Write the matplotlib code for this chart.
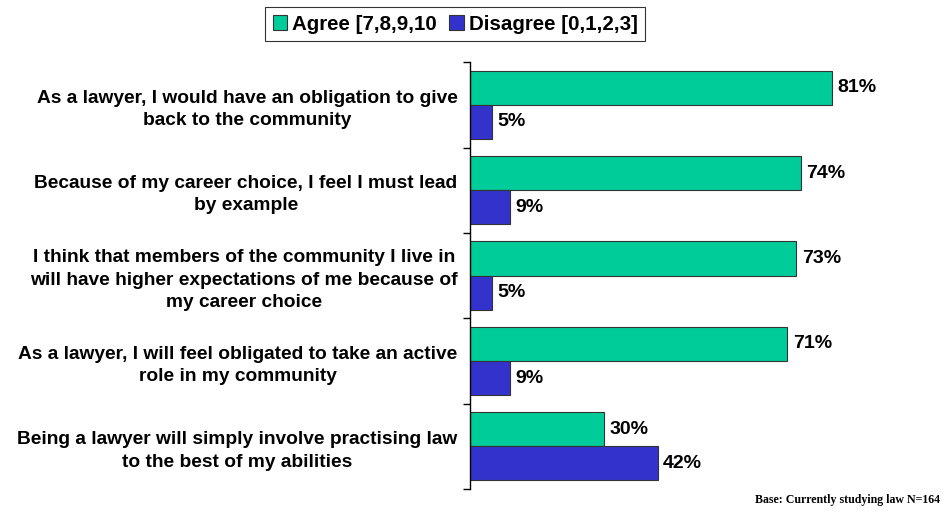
import matplotlib.pyplot as plt
from matplotlib.patches import Patch

# -------- Data --------
statements = [
    "As a lawyer, I would have an obligation to give\nback to the community",
    "Because of my career choice, I feel I must lead\nby example",
    "I think that members of the community I live in\nwill have higher expectations of me because of\nmy career choice",
    "As a lawyer, I will feel obligated to take an active\nrole in my community",
    "Being a lawyer will simply involve practising law\nto the best of my abilities",
]
agree = [81, 74, 73, 71, 30]
disagree = [5, 9, 5, 9, 42]
series_names = ["Agree [7,8,9,10", "Disagree [0,1,2,3]"]

green = "#00CC99"
blue = "#3333CC"

plt.rcParams['font.family'] = ['Liberation Sans', 'DejaVu Sans']

fig = plt.figure(figsize=(9.46, 5.13), dpi=100)
ax = fig.add_axes([0.4968, 0.0468, 0.4725, 0.832])

pos = list(range(len(statements)))
h = 0.4
ax.barh([p - h / 2 for p in pos], agree, height=h, color=green, edgecolor="#333333", linewidth=0.8)
ax.barh([p + h / 2 for p in pos], disagree, height=h, color=blue, edgecolor="#333333", linewidth=0.8)

for p, a, d in zip(pos, agree, disagree):
    ax.text(a + 1.2, p - h / 2, f"{a}%", va="center", ha="left", fontsize=14, fontweight="bold")
    ax.text(d + 1.2, p + h / 2, f"{d}%", va="center", ha="left", fontsize=14, fontweight="bold")

ax.set_xlim(0, 100)
ax.set_ylim(len(statements) - 0.5, -0.5)

ax.set_yticks(pos)
ax.set_yticklabels(statements, fontsize=13.8, fontweight="bold", ha="right",
                   multialignment="center", linespacing=1.4)
ax.tick_params(axis="y", which="major", length=0, pad=9)
ax.set_yticks([p - 0.5 for p in pos] + [len(pos) - 0.5], minor=True)
ax.tick_params(axis="y", which="minor", length=5, width=1, direction="out")
ax.set_xticks([])

for s in ["top", "right", "bottom"]:
    ax.spines[s].set_visible(False)
ax.spines["left"].set_linewidth(1)

handles = [Patch(facecolor=green, edgecolor="#333333", linewidth=0.8),
           Patch(facecolor=blue, edgecolor="#333333", linewidth=0.8)]
leg = fig.legend(handles, series_names, loc="center", bbox_to_anchor=(0.481, 0.953),
                 ncol=2, frameon=True, fancybox=False, edgecolor="black",
                 prop={"weight": "bold", "size": 14.8},
                 handlelength=0.7, handleheight=0.7, handletextpad=0.25,
                 columnspacing=0.6, borderpad=0.35, borderaxespad=0)
leg.get_frame().set_linewidth(0.8)

fig.text(0.994, 0.025, "Base: Currently studying law N=164", ha="right", va="center",
         fontsize=8.6, fontweight="bold", family=["Liberation Serif", "DejaVu Serif"])

fig.savefig("out.png", dpi=100)
